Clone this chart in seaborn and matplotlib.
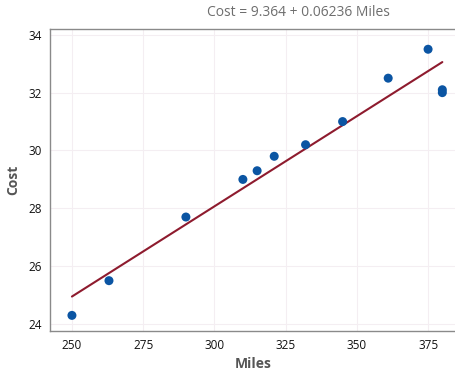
import numpy as np
import pandas as pd
import seaborn as sns
import matplotlib.pyplot as plt

# Values
miles = [250, 263, 290, 310, 315, 321, 332, 345, 361, 375, 380, 380]
cost = [24.3, 25.5, 27.7, 29.0, 29.3, 29.8, 30.2, 31.0, 32.5, 33.5, 32.1, 32.0]
x_ticks = [250, 275, 300, 325, 350, 375]
y_ticks = [24, 26, 28, 30, 32, 34]
title_text = "Cost = 9.364 + 0.06236 Miles"

df = pd.DataFrame({"Miles": miles, "Cost": cost})

sns.set_style("white")
plt.rcParams["font.family"] = ["Open Sans", "DejaVu Sans"]

fig = plt.figure(figsize=(4.56, 3.70), dpi=100)
ax = fig.add_axes([50 / 456, 1 - 331 / 370, 406 / 456, 302 / 370])

sns.regplot(data=df, x="Miles", y="Cost", ax=ax, ci=None, truncate=True,
            scatter_kws=dict(s=42, color="#0B55A3", edgecolor="none", alpha=1, zorder=3),
            line_kws=dict(color="#8E1B2E", lw=1.5, zorder=2))

ax.set_xlim(242.3, 384.8)
ax.set_ylim(23.76, 34.2)
ax.set_xticks(x_ticks)
ax.set_yticks(y_ticks)
ax.grid(True, color="#F4EEF2", lw=0.8)
ax.set_axisbelow(True)
for s in ax.spines.values():
    s.set_color("#8A8A8A")
    s.set_linewidth(1.0)
ax.spines["right"].set_visible(False)
ax.tick_params(axis="both", length=4, width=0.8, color="#8A8A8A",
               labelsize=8.5, labelcolor="#111111", pad=2)
ax.set_xlabel("Miles", fontsize=10, color="#555555", fontweight="bold", labelpad=3)
ax.set_ylabel("Cost", fontsize=10, color="#555555", fontweight="bold", labelpad=6)

fig.text(298 / 456, 1 - 12 / 370, title_text, ha="center", va="center",
         fontsize=10, color="#6E6E6E")

fig.savefig("out.png", dpi=100)
